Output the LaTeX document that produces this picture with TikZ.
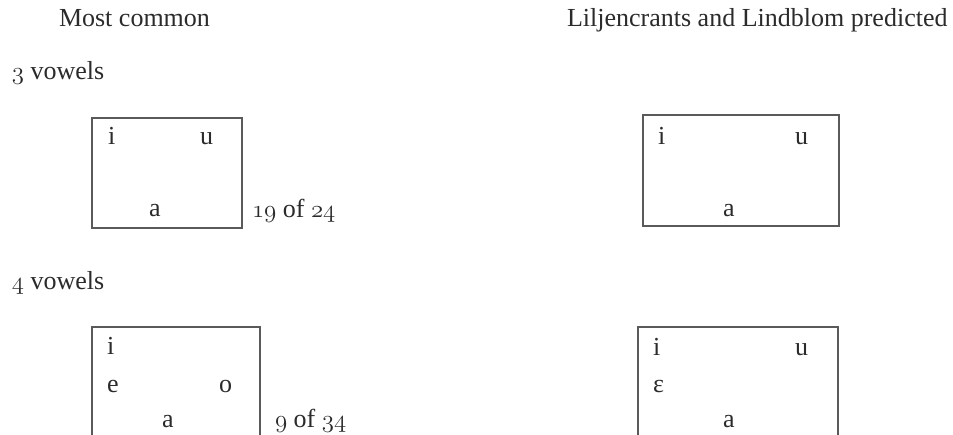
\documentclass[tikz,border=0pt]{standalone}
\usepackage{fontspec}
\setmainfont{Liberation Serif}
\newcommand{\osfnum}[1]{{\usefont{OML}{cmm}{m}{it}#1}}
\definecolor{txt}{HTML}{2B2B2B}
\definecolor{frame}{HTML}{5A5A5A}
\begin{document}
\begin{tikzpicture}[x=1pt,y=-1pt,
  every node/.style={inner sep=0pt, outer sep=0pt, anchor=base west, text=txt,
    font=\fontsize{26}{31}\selectfont},
  vbox/.style={draw=frame, line width=1.4pt}]
\useasboundingbox (0,0) rectangle (953,435);
\clip (0,0) rectangle (953,435);
% headings
\node (h1) at (59,27) {Most common};
\node (h2) at (567,27) {Liljencrants and Lindblom predicted};
% 3 vowels
\node (l3) at (12,80) {\osfnum{3} vowels};
\draw[vbox] (92,118) rectangle (242,228);
\node (ai) at (108,145) {i};
\node (au) at (200,145) {u};
\node (aa) at (149,217) {a};
\node (ac) at (252,218) {\osfnum{19} of \osfnum{24}};
\draw[vbox] (643,115) rectangle (839,226);
\node (bi) at (658,145) {i};
\node (bu) at (795,145) {u};
\node (ba) at (723,217) {a};
% 4 vowels
\node (l4) at (12,290) {\osfnum{4} vowels};
\draw[vbox] (92,327) rectangle (260,470);
\node (ci) at (107,355) {i};
\node (ce) at (107,392) {e};
\node (co) at (219,392) {o};
\node (ca) at (162,428) {a};
\node (cc) at (275,427) {\osfnum{9} of \osfnum{34}};
\draw[vbox] (638,327) rectangle (838,470);
\node (di) at (653,356) {i};
\node (du) at (795,356) {u};
\node (de) at (653,392) {ɛ};
\node (da) at (723,428) {a};
\end{tikzpicture}
\end{document}
